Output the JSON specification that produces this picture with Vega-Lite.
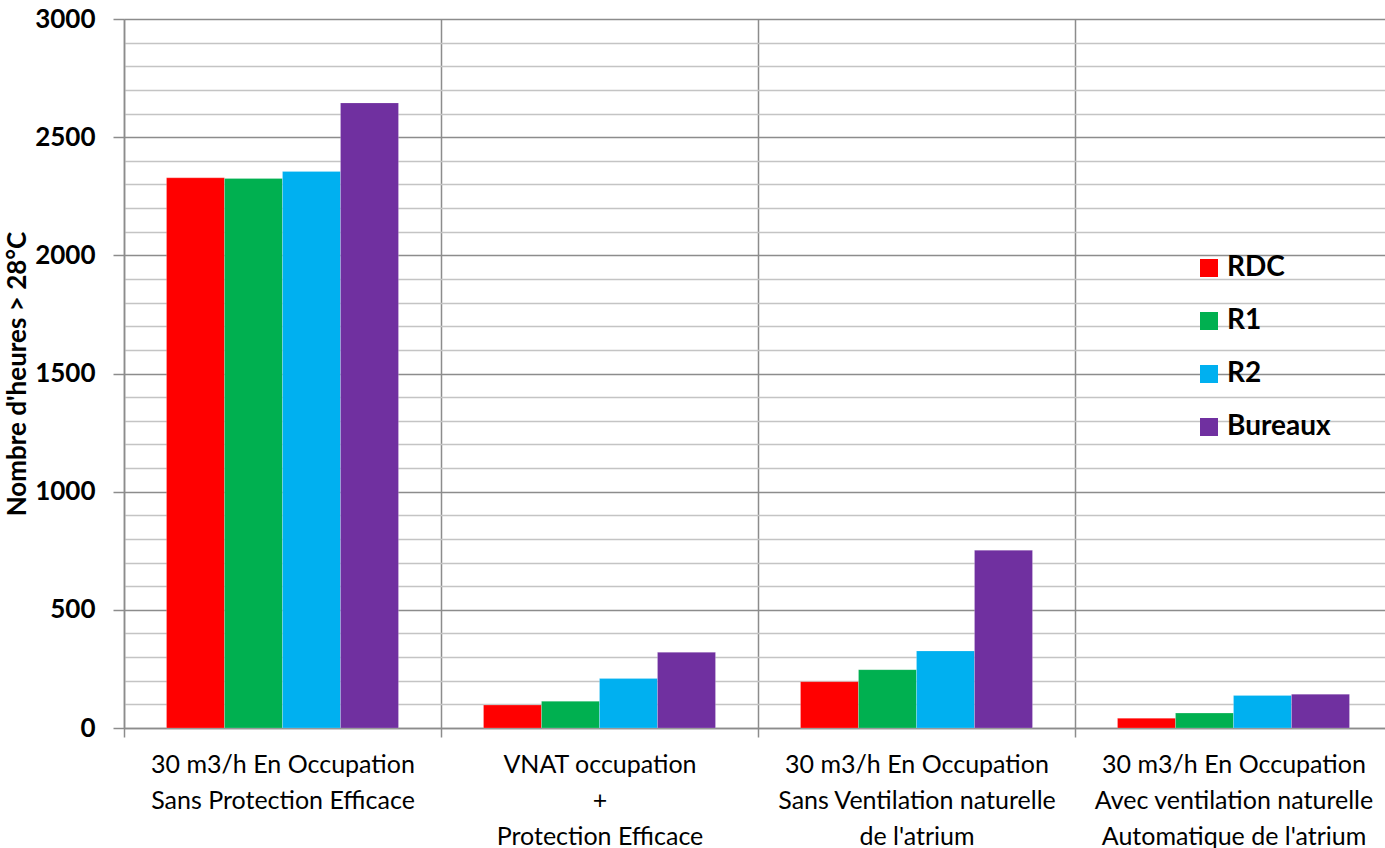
{
  "$schema": "https://vega.github.io/schema/vega-lite/v6.json",
  "autosize": {"type": "none"},
  "width": 1268,
  "height": 709,
  "padding": {"left": 124, "top": 19, "right": 0, "bottom": 120},
  "background": "white",
  "config": {"view": {"stroke": null}, "font": "Lato"},
  "data": {"values": [
    {"scenario": "30 m3/h En Occupation|Sans Protection Efficace", "serie": "RDC", "heures": 2328},
    {"scenario": "30 m3/h En Occupation|Sans Protection Efficace", "serie": "R1", "heures": 2325},
    {"scenario": "30 m3/h En Occupation|Sans Protection Efficace", "serie": "R2", "heures": 2355},
    {"scenario": "30 m3/h En Occupation|Sans Protection Efficace", "serie": "Bureaux", "heures": 2645},
    {"scenario": "VNAT occupation|+|Protection Efficace", "serie": "RDC", "heures": 97},
    {"scenario": "VNAT occupation|+|Protection Efficace", "serie": "R1", "heures": 113},
    {"scenario": "VNAT occupation|+|Protection Efficace", "serie": "R2", "heures": 209},
    {"scenario": "VNAT occupation|+|Protection Efficace", "serie": "Bureaux", "heures": 320},
    {"scenario": "30 m3/h En Occupation|Sans Ventilation naturelle|de l'atrium", "serie": "RDC", "heures": 196},
    {"scenario": "30 m3/h En Occupation|Sans Ventilation naturelle|de l'atrium", "serie": "R1", "heures": 247},
    {"scenario": "30 m3/h En Occupation|Sans Ventilation naturelle|de l'atrium", "serie": "R2", "heures": 326},
    {"scenario": "30 m3/h En Occupation|Sans Ventilation naturelle|de l'atrium", "serie": "Bureaux", "heures": 752},
    {"scenario": "30 m3/h En Occupation|Avec ventilation naturelle|Automatique de l'atrium", "serie": "RDC", "heures": 41},
    {"scenario": "30 m3/h En Occupation|Avec ventilation naturelle|Automatique de l'atrium", "serie": "R1", "heures": 63},
    {"scenario": "30 m3/h En Occupation|Avec ventilation naturelle|Automatique de l'atrium", "serie": "R2", "heures": 138},
    {"scenario": "30 m3/h En Occupation|Avec ventilation naturelle|Automatique de l'atrium", "serie": "Bureaux", "heures": 143}
  ]},
  "mark": {"type": "bar", "stroke": "white", "strokeOpacity": 0.4, "strokeWidth": 0.5},
  "encoding": {
    "x": {
      "field": "scenario", "type": "nominal", "sort": null,
      "scale": {"paddingInner": 0, "paddingOuter": 0},
      "axis": {
        "title": null, "labelAngle": 0, "labelExpr": "split(datum.label, '|')",
        "labelOverlap": false, "labelBound": false, "labelLimit": 0,
        "labelFont": "Lato", "labelFontSize": 25, "labelColor": "black", "labelLineHeight": 36,
        "labelPadding": 15, "labelBaseline": "top", "labelAlign": "center",
        "tickBand": "extent", "grid": true, "gridColor": "#8c8c8c", "gridWidth": 1.5,
        "ticks": true, "tickSize": 9, "tickColor": "#8c8c8c", "tickWidth": 1.5,
        "domainColor": "#8c8c8c", "domainWidth": 1.5
      }
    },
    "xOffset": {
      "field": "serie", "type": "nominal", "sort": ["RDC", "R1", "R2", "Bureaux"],
      "scale": {"paddingInner": 0, "paddingOuter": 0.733}
    },
    "y": {
      "field": "heures", "type": "quantitative",
      "scale": {"domain": [0, 3000], "nice": false},
      "axis": {
        "title": "Nombre d'heures > 28°C", "titleFont": "Lato", "titleFontSize": 26, "titleFontWeight": "bold", "titleColor": "black",
        "titlePadding": 4,
        "values": [0,100,200,300,400,500,600,700,800,900,1000,1100,1200,1300,1400,1500,1600,1700,1800,1900,2000,2100,2200,2300,2400,2500,2600,2700,2800,2900,3000],
        "labelExpr": "datum.value % 500 === 0 ? datum.label : ''",
        "format": "d",
        "labelFont": "Lato", "labelFontSize": 26, "labelFontWeight": "bold", "labelColor": "black", "labelPadding": 18,
        "grid": true,
        "gridColor": {"condition": {"test": "datum.value % 500 === 0", "value": "#8c8c8c"}, "value": "#c4c4c4"},
        "gridWidth": 1.5,
        "ticks": true, "tickSize": 11, "tickWidth": 1.5,
        "tickColor": {"condition": {"test": "datum.value % 500 === 0", "value": "#8c8c8c"}, "value": "rgba(0,0,0,0)"},
        "domainColor": "#8c8c8c", "domainWidth": 1.5
      }
    },
    "color": {
      "field": "serie", "type": "nominal", "sort": ["RDC", "R1", "R2", "Bureaux"],
      "scale": {"domain": ["RDC", "R1", "R2", "Bureaux"], "range": ["#FF0000", "#00B050", "#00B0F0", "#7030A0"]},
      "legend": {
        "title": null, "orient": "none", "legendX": 1071, "legendY": 235,
        "symbolType": "square", "symbolSize": 324, "symbolStrokeWidth": 0,
        "labelFont": "Lato", "labelFontSize": 28, "labelFontWeight": "bold", "labelColor": "black",
        "rowPadding": 25, "labelOffset": 4
      }
    }
  }
}
